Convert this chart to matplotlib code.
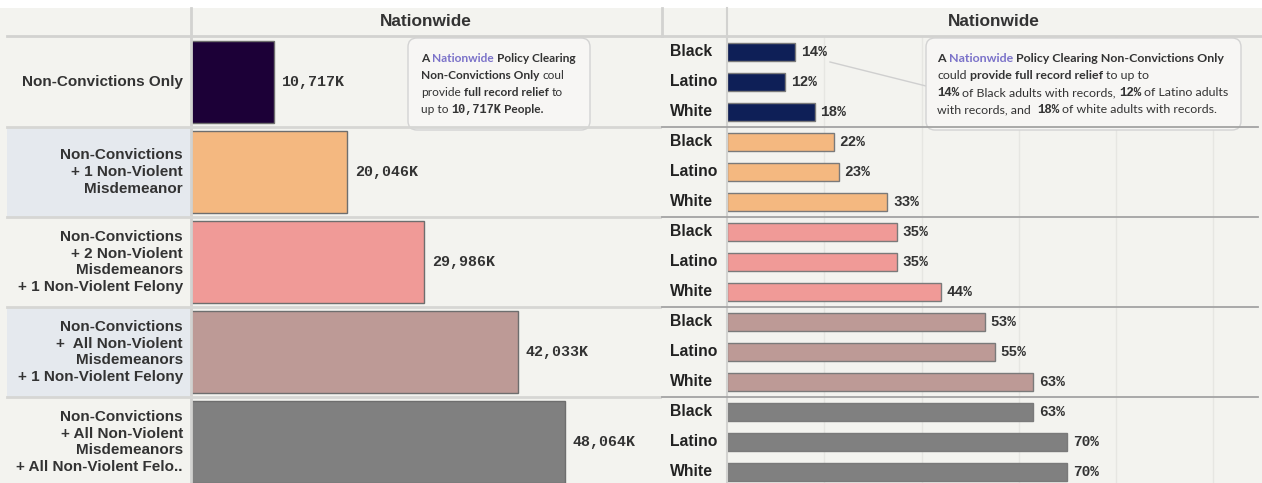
import matplotlib
matplotlib.use("Agg")
import matplotlib.pyplot as plt
from matplotlib.patches import FancyBboxPatch, Rectangle

# ---------------- data ----------------
categories = [
    "Non-Convictions Only",
    "Non-Convictions\n+ 1 Non-Violent\nMisdemeanor",
    "Non-Convictions\n+ 2 Non-Violent\nMisdemeanors\n+ 1 Non-Violent Felony",
    "Non-Convictions\n+  All Non-Violent\nMisdemeanors\n+ 1 Non-Violent Felony",
    "Non-Convictions\n+ All Non-Violent\nMisdemeanors\n+ All Non-Violent Felo..",
]
people_k = [10717, 20046, 29986, 42033, 48064]
races = ["Black", "Latino", "White"]
pct_black = [14, 22, 35, 53, 63]
pct_latino = [12, 23, 35, 55, 70]
pct_white = [18, 33, 44, 63, 70]
bar_colors = ["#1c0037", "#f4b880", "#f09a97", "#bd9a96", "#808080"]
race_group_colors = ["#0e1f57", "#f4b880", "#f09a97", "#bd9a96", "#808080"]
header = "Nationwide"

# ---------------- layout ----------------
W, H = 1262, 483
BG = "#f3f3ef"
fig = plt.figure(figsize=(W / 100, H / 100), dpi=100, facecolor=BG)

def fx(px):
    return px / W

TOP = 37
ROW = 90
nrow_visible = (H - TOP) / ROW

# background axes (pixel coordinates)
bg = fig.add_axes([0, 0, 1, 1])
bg.set_xlim(0, W); bg.set_ylim(H, 0); bg.axis("off")
bg.add_patch(Rectangle((0, 0), W, 8, color="white", lw=0))
for i in (1, 3):
    bg.add_patch(Rectangle((7, TOP + i * ROW), 184, ROW, color="#e5e9ee", lw=0))

LBL = "Liberation Sans"
MONO = "Liberation Mono"
TIP = "Lato"
DARK = "#333333"

# left axes
axL = fig.add_axes([fx(191), 0, fx(662) - fx(191), (H - TOP) / H])
axL.set_facecolor("none")
axL.set_xlim(0, 60500)
axL.set_ylim(nrow_visible, 0)
axL.axis("off")
for i, v in enumerate(people_k):
    axL.barh(i + 0.5, v, height=0.91, left=0, color=bar_colors[i],
             edgecolor="#6e6e6e", linewidth=1.0)
    axL.annotate(f"{v:,}K", (v, i + 0.5), xytext=(5.5, 0), textcoords="offset points",
                 va="center", ha="left", fontsize=10.8, family=MONO,
                 fontweight="bold", color=DARK)

# right axes
axR = fig.add_axes([fx(727), 0, fx(1262) - fx(727), (H - TOP) / H])
axR.set_facecolor("none")
axR.set_xlim(0, 110)
axR.set_ylim(nrow_visible, 0)
axR.axis("off")
for g in (20, 40, 60, 80, 100):
    axR.axvline(g, color="#e6e6e2", lw=1, zorder=0)
series = [pct_black, pct_latino, pct_white]
for i in range(len(categories)):
    for j, s in enumerate(series):
        y = i + (j + 0.5) / 3
        axR.barh(y, s[i], height=0.2, left=0, color=race_group_colors[i],
                 edgecolor="#7a7a7a", linewidth=1.0)
        axR.annotate(f"{s[i]}%", (s[i], y), xytext=(4, 0), textcoords="offset points",
                     va="center", ha="left", fontsize=10.4, family=MONO,
                     fontweight="bold", color=DARK)

# overlay axes (pixel coordinates)
ov = fig.add_axes([0, 0, 1, 1])
ov.set_facecolor("none")
ov.set_xlim(0, W); ov.set_ylim(H, 0); ov.axis("off")

# headers
for cx in (426, 994):
    ov.text(cx, 22, header, ha="center", va="center", fontsize=12.4, family=LBL,
            fontweight="bold", color=DARK)

# category labels
for i, c in enumerate(categories):
    ov.text(183, TOP + i * ROW + ROW / 2, c, ha="right", va="center", fontsize=11,
            family=LBL, fontweight="bold", color=DARK, linespacing=1.26)
    for j, r in enumerate(races):
        ov.text(670, TOP + i * ROW + j * 30 + 15, r, ha="left", va="center",
                fontsize=11.3, family=LBL, fontweight="bold", color="#222222")

# connector
ov.plot([830, 926], [62, 86], color="#cfcfcf", lw=1, zorder=2)

# tooltips
for (x0, x1) in ((408, 590), (926, 1241)):
    ov.add_patch(FancyBboxPatch((x0, 38), x1 - x0, 92,
                                boxstyle="round,pad=0,rounding_size=9",
                                facecolor="#f7f6f4", edgecolor="#d3d3d3", lw=1, zorder=3))

renderer = fig.canvas.get_renderer()
PURPLE = "#7b72c9"

def seg_width(t):
    return t.get_window_extent(renderer=renderer).width

def space_w(fs, fam, wt):
    a = ov.text(0, 0, "x x", fontsize=fs, family=fam, fontweight=wt)
    b = ov.text(0, 0, "xx", fontsize=fs, family=fam, fontweight=wt)
    w = seg_width(a) - seg_width(b)
    a.remove(); b.remove()
    return w

def rich(x, y, segs, fs=8.6):
    for text, wt, col, fam in segs:
        fam = fam or TIP
        f = fs if fam == TIP else fs * 1.0
        sw = space_w(f, fam, wt)
        lead = len(text) - len(text.lstrip(" "))
        trail = len(text) - len(text.rstrip(" "))
        x += lead * sw
        core = text.strip(" ")
        if core:
            t = ov.text(x, y, core, fontsize=f, family=fam, fontweight=wt,
                        color=col, va="center", ha="left", zorder=4)
            x += seg_width(t)
        x += trail * sw

B, N = "bold", "normal"
tipL = [
    [("A ", B, DARK, None), ("Nationwide", B, PURPLE, None), (" Policy Clearing", B, DARK, None)],
    [("Non-Convictions Only", B, DARK, None), (" coul", N, DARK, None)],
    [("provide ", N, DARK, None), ("full record relief", B, DARK, None), (" to", N, DARK, None)],
    [("up to ", N, DARK, None), ("10,717K", B, DARK, MONO), (" People.", B, DARK, None)],
]
tipR = [
    [("A ", B, DARK, None), ("Nationwide", B, PURPLE, None),
     (" Policy Clearing Non-Convictions Only", B, DARK, None)],
    [("could ", N, DARK, None), ("provide full record relief", B, DARK, None),
     (" to up to", N, DARK, None)],
    [("14%", B, DARK, MONO), (" of Black adults with records, ", N, DARK, None),
     ("12%", B, DARK, MONO), (" of Latino adults", N, DARK, None)],
    [("with records, and  ", N, DARK, None), ("18%", B, DARK, MONO),
     (" of white adults with records.", N, DARK, None)],
]
for k, line in enumerate(tipL):
    rich(421, 58 + k * 17.3, line)
for k, line in enumerate(tipR):
    rich(937, 58 + k * 17.3, line, fs=8.9)

# grid / separator lines on top
ov.plot([7, W], [36, 36], color="#d2d2d0", lw=2, zorder=6)
ov.plot([191, 191], [8, H], color="#d2d2d0", lw=2, zorder=6)
ov.plot([662, 662], [8, 36], color="#d2d2d0", lw=2, zorder=6)
ov.plot([727, 727], [8, H], color="#d2d2d0", lw=1.5, zorder=6)
for i in range(1, 5):
    y = TOP + i * ROW
    ov.plot([7, 660], [y, y], color="#d6d6d4", lw=2, zorder=6)
    ov.plot([662, 1258], [y, y], color="#a3a3a3", lw=1.3, zorder=6)

fig.savefig("out.png", dpi=100, facecolor=BG)
